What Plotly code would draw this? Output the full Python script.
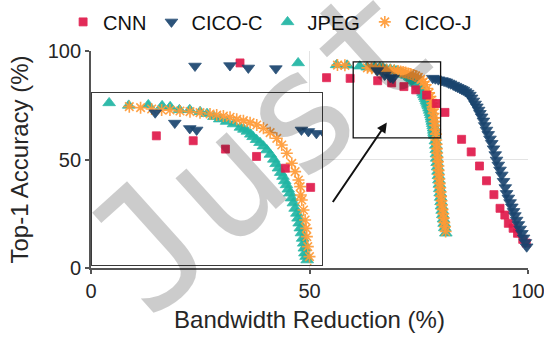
import plotly.graph_objects as go

# ---- data: bandwidth reduction (%) vs top-1 accuracy (%) ----
cnn_x = [34.1, 53.9, 59.3, 65.6, 68.8, 71.6, 74.3, 76.8, 79.0, 81.0, 84.8, 87.0,
         88.9, 90.5, 92.2, 93.6, 94.7, 95.5, 96.6, 97.6, 98.8, 99.6]
cnn_y = [94.5, 87.7, 87.4, 86.3, 85.3, 83.6, 82.1, 79.7, 75.8, 71.7, 59.3, 53.5,
         47.0, 40.2, 33.8, 27.5, 24.4, 20.6, 18.3, 16.0, 13.2, 11.5]

cicoc_x = [23.8, 31.8, 36.0, 42.3, 65.5, 67.2, 68.5, 69.1, 78.2, 78.8, 79.5,
           80.3, 80.8, 81.3, 81.8, 82.3, 82.9, 83.4, 83.9, 84.4, 84.8, 85.2, 85.7,
           86.2, 86.7, 87.1, 87.5, 87.9, 88.3, 88.7, 89.0, 89.4, 89.8, 90.1, 90.5,
           90.9, 91.3, 91.7, 92.1, 92.5, 92.8, 93.2, 93.6, 94.0, 94.4, 94.8, 95.1,
           95.5, 95.9, 96.3, 96.7, 97.0, 97.4, 97.8, 98.2, 98.6, 99.0, 99.4, 99.7]
cicoc_y = [93.1, 93.3, 92.2, 91.9, 91.0, 88.9, 87.8, 87.5, 87.5, 87.2, 86.8,
           86.4, 86.1, 85.8, 85.3, 84.9, 84.3, 83.8, 83.3, 82.8, 82.4, 82.0, 81.3,
           80.6, 79.7, 78.4, 77.0, 75.6, 74.3, 72.8, 71.3, 69.7, 67.8, 65.7, 63.6,
           61.6, 59.5, 57.5, 55.0, 52.3, 49.8, 47.5, 45.2, 42.9, 40.0, 37.1, 34.4,
           32.3, 30.2, 28.2, 26.1, 24.2, 22.1, 20.1, 18.0, 16.0, 13.9, 11.8, 9.8]

jpeg_x = [47.4, 56.2, 58.6, 61.5, 63.2, 64.9, 66.1, 66.8, 67.6, 68.5, 69.4, 70.0,
          70.6, 71.1, 71.7, 72.3, 72.9, 73.2, 73.5, 73.8, 74.0, 74.3, 74.6, 74.9,
          75.2, 75.5, 75.8, 76.0, 76.2, 76.4, 76.6, 76.75, 76.9, 77.05, 77.2, 77.35,
          77.5, 77.65, 77.8, 77.9, 78.0, 78.1, 78.2, 78.3, 78.4, 78.45, 78.5, 78.6,
          78.7, 78.8, 78.9, 79.0, 79.05, 79.1, 79.2, 79.3, 79.4, 79.5, 79.6, 79.7,
          79.8, 79.9, 80.0, 80.1, 80.2, 80.35, 80.5, 80.65, 80.8, 80.95, 81.2]
jpeg_y = [94.5, 93.6, 93.4, 93.0, 92.5, 92.6, 92.4, 92.2, 91.6, 91.6, 91.2, 90.8,
          90.2, 89.7, 89.2, 88.7, 88.0, 87.6, 87.2, 86.6, 86.1, 85.5, 84.9, 84.2,
          83.4, 82.5, 81.5, 80.6, 79.7, 78.8, 78.0, 77.1, 76.3, 75.4, 74.6, 73.6,
          72.6, 71.5, 70.5, 69.5, 68.5, 67.5, 66.5, 65.4, 64.4, 63.4, 62.4, 61.7,
          61.0, 58.5, 56.5, 54.5, 52.5, 50.5, 48.5, 46.5, 44.5, 42.5, 40.5, 38.5,
          36.5, 34.5, 32.5, 30.5, 28.5, 26.5, 24.5, 22.5, 20.5, 18.5, 16.0]

cicoj_x = [56.4, 58.1, 63.25, 64.23, 65.19, 66.06, 66.78, 67.65, 68.52, 69.39, 70.26,
           70.84, 71.42, 72.0, 72.58, 73.16, 73.74, 74.32, 74.9, 75.48, 76.06, 76.49,
           76.93, 77.36, 77.65, 77.94, 78.09, 78.15, 78.23, 78.38, 78.52, 78.61, 78.67,
           78.75, 78.9, 79.0, 79.1, 79.15, 79.2, 79.3, 79.4, 79.5, 79.55, 79.6, 79.7,
           79.8, 79.9, 80.0, 80.1, 80.2, 80.3, 80.45, 80.6, 80.7, 80.85, 81.0, 81.15]
cicoj_y = [93.5, 93.4, 92.24, 92.04, 91.77, 91.56, 91.56, 91.36, 91.22, 91.02, 90.75,
           90.55, 90.34, 90.07, 89.66, 89.39, 88.98, 88.51, 87.83, 86.95, 85.79, 84.44,
           82.74, 80.7, 79.0, 77.31, 75.95, 74.25, 73.23, 71.2, 69.16, 67.46, 65.77,
           63.73, 61.69, 59.0, 57.0, 55.0, 53.0, 51.0, 49.0, 47.0, 45.0, 43.0, 41.0,
           39.0, 37.0, 35.0, 33.0, 31.0, 29.0, 27.0, 25.0, 23.0, 21.0, 19.0, 16.8]

tick_vals = [0, 50, 100]
zoom_x = [60, 80]
zoom_y = [60, 95]

C_CNN = "#e0194a"
C_CICOC = "#1b456f"
C_JPEG = "#1fb5a3"
C_CICOJ = "#ff9a36"
TXT = "#262626"
FONT = "Liberation Sans, Arial, sans-serif"

series = [
    # (name, x, y, symbol, color, size, legend rank) in drawing order
    ("JPEG", jpeg_x, jpeg_y, "triangle-up", C_JPEG, 11, 3),
    ("CICO-J", cicoj_x, cicoj_y, "asterisk-open", C_CICOJ, 10, 4),
    ("CNN", cnn_x, cnn_y, "square", C_CNN, 8, 1),
    ("CICO-C", cicoc_x, cicoc_y, "triangle-down", C_CICOC, 11, 2),
]

fig = go.Figure()
for name, xs, ys, sym, col, sz, rank in series:
    line = dict(width=1.6, color=col) if sym == "asterisk-open" else dict(width=0.8, color=col)
    marker = dict(symbol=sym, size=sz, color=col, opacity=0.92, line=line)
    fig.add_trace(go.Scatter(x=xs, y=ys, mode="markers", name=name, marker=marker,
                             legendrank=rank, cliponaxis=False,
                             xaxis="x", yaxis="y"))
    fig.add_trace(go.Scatter(x=xs, y=ys, mode="markers", name=name, marker=marker,
                             showlegend=False, cliponaxis=True,
                             xaxis="x2", yaxis="y2"))

axis_font = dict(family=FONT, size=20, color=TXT)
title_font = dict(family=FONT, size=24, color=TXT)

fig.update_layout(
    width=544, height=337,
    margin=dict(l=91, r=16, t=51, b=69, autoexpand=False),
    paper_bgcolor="white", plot_bgcolor="white",
    font=dict(family=FONT, color=TXT),
    xaxis=dict(range=[0, 100], tickvals=tick_vals, ticks="outside", ticklen=4,
               tickwidth=1.5, tickcolor="#555", showline=True, linecolor="#555",
               linewidth=1.8, showgrid=True, gridcolor="#e3e3e3", gridwidth=1,
               zeroline=False, tickfont=axis_font, ticklabeloverflow="allow",
               automargin=False,
               title=dict(text="Bandwidth Reduction (%)", font=title_font, standoff=10)),
    yaxis=dict(range=[0, 100], tickvals=tick_vals, ticks="outside", ticklen=4,
               tickwidth=1.5, tickcolor="#555", showline=True, linecolor="#555",
               linewidth=1.8, showgrid=True, gridcolor="#e3e3e3", gridwidth=1,
               zeroline=False, tickfont=axis_font, ticklabeloverflow="allow",
               automargin=False,
               title=dict(text="Top-1 Accuracy (%)", font=title_font, standoff=12)),
    xaxis2=dict(domain=[0.002, 0.529], anchor="y2", range=zoom_x, showline=True,
                mirror=True, linecolor="#3a3a3a", linewidth=1.3, showgrid=False,
                zeroline=False, showticklabels=False, ticks=""),
    yaxis2=dict(domain=[0.014, 0.806], anchor="x2", range=zoom_y, showline=True,
                mirror=True, linecolor="#3a3a3a", linewidth=1.3, showgrid=False,
                zeroline=False, showticklabels=False, ticks=""),
    legend=dict(orientation="h", xref="container", yref="container",
                x=0.116, xanchor="left", y=0.935, yanchor="middle",
                font=dict(family=FONT, size=20, color="#111"),
                bgcolor="rgba(0,0,0,0)", itemwidth=30, tracegroupgap=0),
    showlegend=True,
)

# zoomed region marker
fig.add_shape(type="rect", xref="x", yref="y", x0=zoom_x[0], x1=zoom_x[1],
              y0=zoom_y[0], y1=zoom_y[1], line=dict(color="#111", width=1.3),
              layer="above")

# arrow pointing to the zoomed region
fig.add_annotation(x=67.7, y=67.0, ax=55.1, ay=29.7, xref="x", yref="y",
                   axref="x", ayref="y", text="", showarrow=True, arrowhead=2,
                   arrowsize=1, arrowwidth=2, arrowcolor="#111", standoff=0)

# watermark
fig.add_annotation(text="Just", xref="paper", yref="paper", x=0.3856, y=0.5585,
                   xanchor="center", yanchor="middle",
                   showarrow=False, textangle=-42,
                   font=dict(family="DejaVu Sans Mono", size=165, color="rgba(0,0,0,0.2)"))

fig.write_html("out.html")
